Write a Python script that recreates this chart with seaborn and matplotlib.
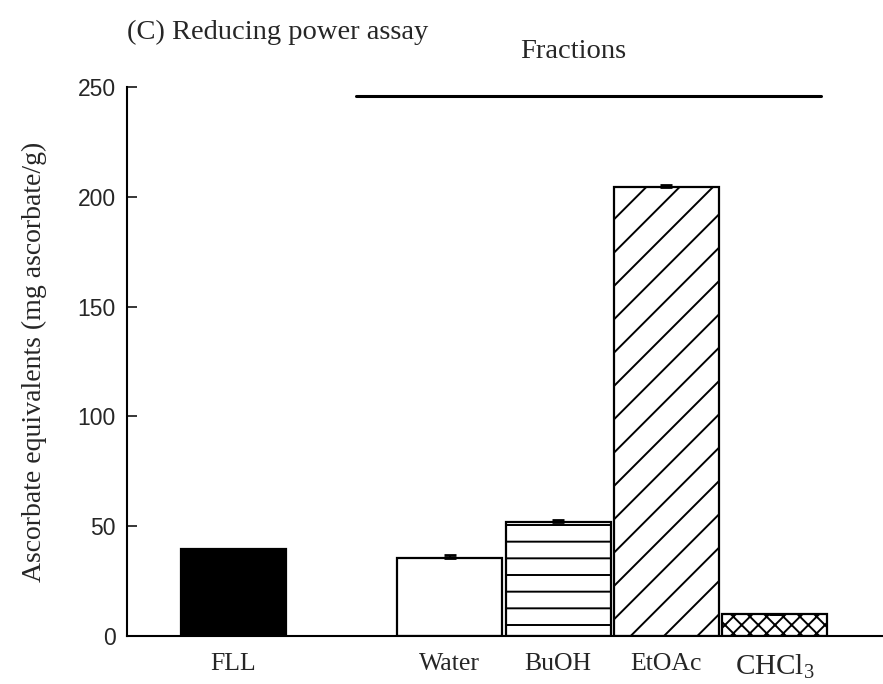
import matplotlib
matplotlib.use("Agg")
import matplotlib.pyplot as plt
import seaborn as sns
import pandas as pd

categories = ["FLL", "Water", "BuOH", "EtOAc", "CHCl$_3$"]
values = [39.5, 35.5, 52.0, 204.5, 10.0]
errors = [0.0, 1.5, 0.8, 1.0, 0.0]
order = ["FLL", " ", "Water", "BuOH", "EtOAc", "CHCl$_3$"]
fills = ["black", "white", "white", "white", "white"]
hatches = ["", "", "-", "/", "xx"]
yticks = [0, 50, 100, 150, 200, 250]

sns.set_theme(style="ticks")
plt.rcParams["mathtext.default"] = "regular"
plt.rcParams["hatch.linewidth"] = 1.4

fig = plt.figure(figsize=(8.83, 6.84), dpi=100)
ax = fig.add_axes([0.1438, 0.0702, 0.8562, 0.8026])

df = pd.DataFrame({"cat": categories, "val": values})
sns.barplot(data=df, x="cat", y="val", order=order, hue="cat",
            hue_order=categories, palette=dict(zip(categories, fills)),
            edgecolor="black", linewidth=1.6, width=0.97, errorbar=None,
            legend=False, ax=ax)

pos = {c: order.index(c) for c in categories}
for p in ax.patches:
    cx = p.get_x() + p.get_width() / 2
    for c, h in zip(categories, hatches):
        if abs(cx - pos[c]) < 0.3:
            p.set_hatch(h)
            p.set_edgecolor("black")

xs = [pos[c] for c in categories]
ax.errorbar(xs, values, yerr=[[0] * len(errors), errors], fmt="none",
            ecolor="black", elinewidth=1.5, capsize=4, capthick=2)

ax.set_ylim(0, 250)
ax.set_xlim(-0.98, 6.0)
ax.set_yticks(yticks)
ax.set_yticklabels([str(t) for t in yticks], family="Liberation Sans", fontsize=16.5)
ax.tick_params(axis="y", direction="in", length=7, width=1.3, pad=8)
ax.tick_params(axis="x", length=0, pad=12)
for lbl in ax.get_xticklabels():
    lbl.set_family("Liberation Serif")
    lbl.set_fontsize(18.5)
    if "CHCl" in lbl.get_text():
        lbl.set_fontsize(21)
ax.set_xlabel("")
ax.set_ylabel("Ascorbate equivalents (mg ascorbate/g)", family="Liberation Serif",
              fontsize=20, labelpad=22)
sns.despine(ax=ax)
for s in ["left", "bottom"]:
    ax.spines[s].set_linewidth(1.5)
    ax.spines[s].set_color("black")

ax.plot([1.13, 5.43], [246, 246], color="black", lw=2.2, clip_on=False)
fig.text(0.144, 0.952, "(C) Reducing power assay", family="Liberation Serif",
         fontsize=20.5, ha="left", va="center")
fig.text(0.649, 0.925, "Fractions", family="Liberation Serif",
         fontsize=20.5, ha="center", va="center")

fig.savefig("out.png", dpi=100)
